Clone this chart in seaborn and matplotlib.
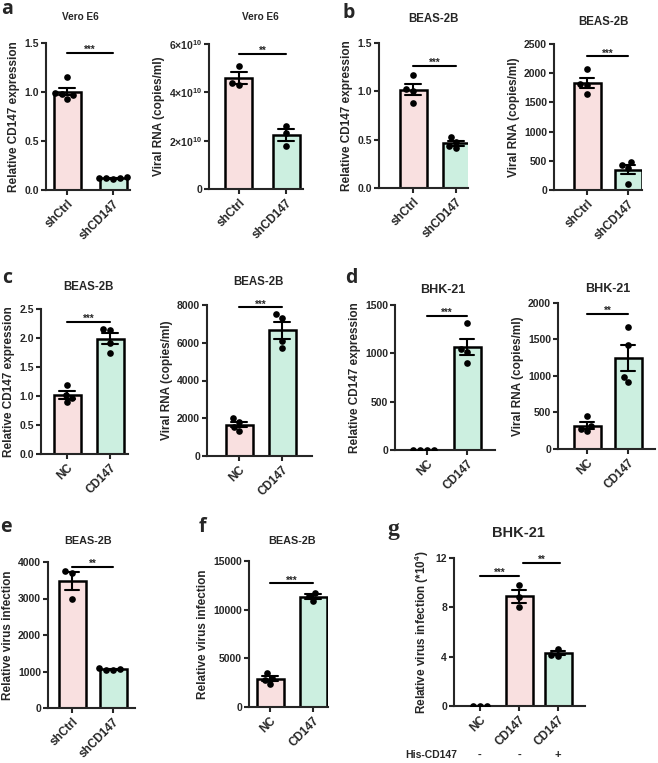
import numpy as np
import pandas as pd
import matplotlib
matplotlib.use("Agg")
import matplotlib.pyplot as plt
import matplotlib.transforms as mtransforms
import seaborn as sns

sns.set_style("ticks")
plt.rcParams["font.family"] = ["Liberation Sans", "DejaVu Sans"]
plt.rcParams["font.weight"] = "bold"
plt.rcParams["axes.labelweight"] = "bold"
plt.rcParams["mathtext.fontset"] = "custom"
plt.rcParams["mathtext.rm"] = "Liberation Sans:bold"
plt.rcParams["mathtext.it"] = "Liberation Sans:bold"
plt.rcParams["mathtext.bf"] = "Liberation Sans:bold"
plt.rcParams["mathtext.default"] = "regular"

# ---------------- data ----------------
sh_groups = ["shCtrl", "shCD147"]
oe_groups = ["NC", "CD147"]
g_groups = ["NC", "CD147", "CD147+His"]
g_ticklabels = ["NC", "CD147", "CD147"]
g_his = ["-", "-", "+"]

a1_shctrl = [1.15, 0.99, 0.98, 0.97, 0.93]
a1_shcd147 = [0.13, 0.12, 0.12, 0.12, 0.11]
a2_shctrl = [5.1e10, 4.4e10, 4.3e10]
a2_shcd147 = [2.59e10, 2.31e10, 1.79e10]
b1_shctrl = [1.17, 1.02, 1.00, 0.88]
b1_shcd147 = [0.53, 0.48, 0.43, 0.41]
b2_shctrl = [2080, 1820, 1800, 1640]
b2_shcd147 = [480, 430, 380, 110]
c1_nc = [1.19, 1.02, 0.97, 0.89]
c1_cd147 = [2.15, 2.14, 1.92, 1.74]
c2_nc = [2000, 1800, 1550, 1300]
c2_cd147 = [7500, 7300, 6100, 5700]
d1_nc = [4, 3, 3, 2]
d1_cd147 = [1310, 1040, 1010, 900]
d2_nc = [450, 310, 280, 240]
d2_cd147 = [1672, 1421, 989, 911]
e_shctrl = [3750, 3700, 3000]
e_shcd147 = [1100, 1060, 1050, 1030]
f_nc = [3500, 3000, 2800, 2350]
f_cd147 = [11750, 11400, 10850]
g_nc = [0.03, 0.02, 0.03]
g_cd147 = [9.84, 8.85, 8.04]
g_cd147_his = [4.65, 4.15, 4.05]

ticks_rel15 = [0, 0.5, 1.0, 1.5]
ticklab_rel15 = ["0.0", "0.5", "1.0", "1.5"]
ticks_a2 = [0, 2e10, 4e10, 6e10]
ticklab_a2 = ["0", r"$2{\times}10^{10}$", r"$4{\times}10^{10}$", r"$6{\times}10^{10}$"]
ticks_b2 = [0, 500, 1000, 1500, 2000, 2500]
ticks_c1 = [0, 0.5, 1.0, 1.5, 2.0, 2.5]
ticklab_c1 = ["0.0", "0.5", "1.0", "1.5", "2.0", "2.5"]
ticks_c2 = [0, 2000, 4000, 6000, 8000]
ticks_d1 = [0, 500, 1000, 1500]
ticks_d2 = [0, 500, 1000, 1500, 2000]
ticks_e = [0, 1000, 2000, 3000, 4000]
ticks_f = [0, 5000, 10000, 15000]
ticks_g = [0, 4, 8, 12]

# significance: (from, to, y, label)
sig_a1 = [(0, 1, 1.40, "***")]
sig_a2 = [(0, 1, 5.59e10, "**")]
sig_b1 = [(0, 1, 1.26, "***")]
sig_b2 = [(0, 1, 2286, "***")]
sig_c1 = [(0, 1, 2.28, "***")]
sig_c2 = [(0, 1, 7880, "***")]
sig_d1 = [(0, 1, 1390, "***")]
sig_d2 = [(0, 1, 1854, "**")]
sig_e = [(0, 1, 3864, "**")]
sig_f = [(0, 1, 12710, "***")]
sig_g = [(0, 1, 10.52, "***"), (1.1, 2.05, 11.6, "**")]

PINK = "#FDDCDC"
MINT = "#C6F5E1"

W, H = 658, 763
fig = plt.figure(figsize=(W / 100, H / 100), dpi=100)


def panel(groups, ticklabels, series, colors, yticks, yticklabels, ylabel,
          sigs, box, barpx=27):
    L, c0, cN, R, ytop, y0 = box
    n = len(groups)
    unit = (cN - c0) / (n - 1)
    ax = fig.add_axes([L / W, 1 - y0 / H, (R - L) / W, (y0 - ytop) / H])
    df = pd.DataFrame({
        "group": np.repeat(groups, [len(s) for s in series]),
        "value": np.concatenate([np.asarray(s, float) for s in series]),
    })
    sns.barplot(data=df, x="group", y="value", hue="group", order=groups,
                hue_order=groups, palette=dict(zip(groups, colors)),
                errorbar="se", capsize=0.35,
                err_kws={"color": "black", "linewidth": 1.5},
                edgecolor="black", linewidth=1.8, width=barpx / unit,
                legend=False, ax=ax)
    sns.swarmplot(data=df, x="group", y="value", order=groups, color="black",
                  size=4.8, ax=ax, zorder=4)
    ax.set_xlim(-(c0 - L) / unit, (n - 1) + (R - cN) / unit)
    ax.set_ylim(0, yticks[-1])
    ax.set_yticks(yticks)
    ax.set_yticklabels(yticklabels if yticklabels is not None else [str(t) for t in yticks])
    ax.set_xticks(range(n))
    ax.set_xticklabels(ticklabels, rotation=45, ha="right", rotation_mode="anchor",
                       fontsize=8.5, fontweight="bold")
    ax.tick_params(axis="y", labelsize=7.5, width=1.5, length=3.5, pad=1.5)
    ax.tick_params(axis="x", width=1.5, length=3.5, pad=2)
    for lab in ax.get_yticklabels():
        lab.set_fontweight("bold")
    ax.set_xlabel("")
    ax.set_ylabel(ylabel, fontsize=8.5, fontweight="bold", labelpad=3)
    for s in ["top", "right"]:
        ax.spines[s].set_visible(False)
    for s in ["left", "bottom"]:
        ax.spines[s].set_linewidth(1.5)
    for (i, j, y, lab) in sigs:
        ax.plot([i, j], [y, y], color="black", lw=1.5, clip_on=False, zorder=5)
        ax.annotate(lab, xy=((i + j) / 2, y), xytext=(0, -1.5), textcoords="offset points",
                    ha="center", va="bottom", fontsize=7, fontweight="bold",
                    annotation_clip=False)
    return ax


two = [PINK, MINT]
panel(sh_groups, sh_groups, [a1_shctrl, a1_shcd147], two, ticks_rel15, ticklab_rel15,
      "Relative CD147 expression", sig_a1, (46, 67, 113, 130, 43, 190))
panel(sh_groups, sh_groups, [a2_shctrl, a2_shcd147], two, ticks_a2, ticklab_a2,
      "Viral RNA (copies/ml)", sig_a2, (209, 239, 286, 303, 44, 189))
panel(sh_groups, sh_groups, [b1_shctrl, b1_shcd147], two, ticks_rel15, ticklab_rel15,
      "Relative CD147 expression", sig_b1, (379, 413, 456, 468, 43, 188))
panel(sh_groups, sh_groups, [b2_shctrl, b2_shcd147], two, ticks_b2, None,
      "Viral RNA (copies/ml)", sig_b2, (554, 587, 628, 642, 44, 190))
panel(oe_groups, oe_groups, [c1_nc, c1_cd147], two, ticks_c1, ticklab_c1,
      "Relative CD147 expression", sig_c1, (41, 67, 110, 128, 309, 454))
panel(oe_groups, oe_groups, [c2_nc, c2_cd147], two, ticks_c2, None,
      "Viral RNA (copies/ml)", sig_c2, (207, 239, 282, 312, 305, 456))
panel(oe_groups, oe_groups, [d1_nc, d1_cd147], two, ticks_d1, None,
      "Relative CD147 expression", sig_d1, (395, 427, 467, 495, 305, 450))
panel(oe_groups, oe_groups, [d2_nc, d2_cd147], two, ticks_d2, None,
      "Viral RNA (copies/ml)", sig_d2, (558, 587, 628, 655, 303, 449))
panel(sh_groups, sh_groups, [e_shctrl, e_shcd147], two, ticks_e, None,
      "Relative virus infection", sig_e, (48, 72, 113, 135, 562, 708))
panel(oe_groups, oe_groups, [f_nc, f_cd147], two, ticks_f, None,
      "Relative virus infection", sig_f, (249, 270, 313, 328, 561, 707))
axg = panel(g_groups, g_ticklabels, [g_nc, g_cd147, g_cd147_his], [PINK, PINK, MINT],
            ticks_g, None, r"Relative virus infection (*10$^{4}$)", sig_g,
            (454, 480, 558, 585, 558, 706))

# His-CD147 row
trans = mtransforms.blended_transform_factory(axg.transData, fig.transFigure)
for i, s in enumerate(g_his):
    axg.text(i, 1 - 755 / H, s, transform=trans, ha="center", va="center",
             fontsize=8, fontweight="bold")
fig.text(405 / W, 1 - 755 / H, "His-CD147", ha="left", va="center",
         fontsize=7.5, fontweight="bold")

# titles
titles = [("Vero E6", 80, 17, 7.2), ("Vero E6", 260, 17, 7.2),
          ("BEAS-2B", 433, 18.5, 8.3), ("BEAS-2B", 603, 22, 8.3),
          ("BEAS-2B", 88, 287, 8.3), ("BEAS-2B", 258, 282, 8.3),
          ("BHK-21", 443, 290, 9), ("BHK-21", 608, 289.5, 9),
          ("BEAS-2B", 88, 541, 7.8), ("BEAS-2B", 292, 541, 7.8),
          ("BHK-21", 518, 533, 10.5)]
for t, x, y, fs in titles:
    fig.text(x / W, 1 - y / H, t, ha="center", va="center", fontsize=fs, fontweight="bold")

# panel letters
letters = [("a", 1, 14.5), ("b", 342, 17.5), ("c", 2, 283), ("d", 345, 283),
           ("e", 0, 532), ("f", 199, 532)]
for t, x, y in letters:
    fig.text(x / W, 1 - y / H, t, ha="left", va="baseline", fontsize=14,
             fontweight="bold", family=["Open Sans", "DejaVu Sans"])
fig.text(387 / W, 1 - 535 / H, "g", ha="left", va="baseline", fontsize=17,
         fontweight="bold", family=["Liberation Serif", "DejaVu Serif"])

fig.savefig("out.png", dpi=100)
